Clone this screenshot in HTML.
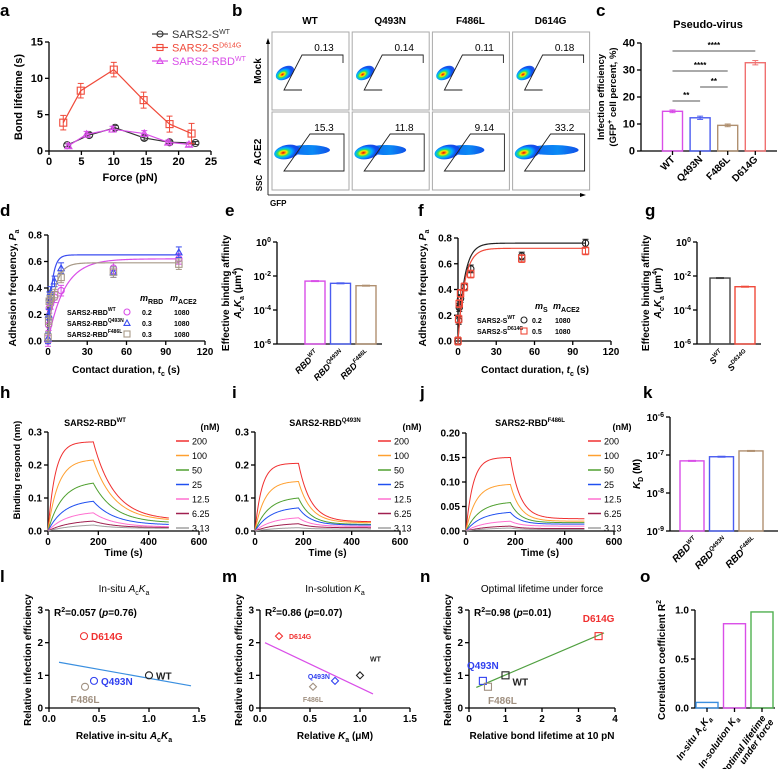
<!DOCTYPE html>
<html><head><meta charset="utf-8">
<style>
html,body{margin:0;padding:0;background:#fff;}
svg{display:block;font-family:"Liberation Sans",Arial,sans-serif;}
</style></head>
<body>
<svg id="fig" width="778" height="769" viewBox="0 0 778 769" xmlns="http://www.w3.org/2000/svg">
<defs>
<radialGradient id="jet" cx="0.35" cy="0.5" r="0.65">
<stop offset="0" stop-color="#d00000"/><stop offset="0.12" stop-color="#ff8000"/><stop offset="0.22" stop-color="#f0f000"/><stop offset="0.34" stop-color="#30e060"/><stop offset="0.5" stop-color="#00b0ff"/><stop offset="0.75" stop-color="#1050f0"/><stop offset="1" stop-color="#1040e0" stop-opacity="0.9"/>
</radialGradient>
<linearGradient id="tail" x1="0" x2="1"><stop offset="0" stop-color="#1060f0"/><stop offset="0.6" stop-color="#0a8af5"/><stop offset="1" stop-color="#1050e8"/></linearGradient>
</defs>
</svg>
<script>
// ---------- data ----------
const forceWT=[2.8,6.2,10.2,14.7,18.6,22.6];
const lifeWT=[0.8,2.2,3.2,1.8,1.2,1.1];
const errWT=[0.2,0.3,0.3,0.3,0.2,0.2];
const forceD614G=[2.2,4.9,10.0,14.6,18.6,22.0];
const lifeD614G=[3.9,8.3,11.2,7.0,3.7,2.4];
const errD614G=[1.0,1.0,1.0,1.1,1.1,1.4];
const forceRBD=[3.0,5.8,9.8,14.7,18.4,21.6];
const lifeRBD=[0.7,2.3,3.0,2.4,1.2,0.9];
const errRBD=[0.3,0.4,0.4,0.4,0.3,0.3];
const aTicksX=[0,5,10,15,20,25];
const aTicksY=[0,5,10,15];

const bCols=["WT","Q493N","F486L","D614G"];
const bMock=["0.13","0.14","0.11","0.18"];
const bAce2=["15.3","11.8","9.14","33.2"];
const bTail=[40,36,34,48];

const cCats=["WT","Q493N","F486L","D614G"];
const cVals=[14.7,12.3,9.5,32.7];
const cErr=[0.5,0.6,0.5,0.8];
const cTicks=[0,10,20,30,40];

const dTimes=[0,0.5,1,2,5,10,50,100];
const dWT=[0.0,0.12,0.25,0.28,0.33,0.38,0.55,0.62];
const dQ=[0.02,0.2,0.33,0.37,0.45,0.55,0.52,0.67];
const dF=[0.03,0.15,0.3,0.32,0.35,0.48,0.52,0.58];
const dFitA=[0.62,0.65,0.59];
const dFitK=[0.08,0.35,0.2];
const dTicksX=[0,30,60,90,120];
const dTicksY=[0,0.2,0.4,0.6,0.8];

const eCats=["RBD^WT","RBD^Q493N","RBD^F486L"];
const eLog=[-2.3,-2.43,-2.57];
const gCats=["S^WT","S^D614G"];
const gLog=[-2.12,-2.63];

const fTimes=[0,0.5,1,2,5,10,50,100];
const fWT=[0.0,0.16,0.26,0.33,0.42,0.56,0.66,0.76];
const fD=[0.0,0.17,0.29,0.37,0.42,0.52,0.64,0.70];
const fFitA=[0.76,0.72];
const fFitK=[0.2,0.19];

const concs=["200","100","50","25","12.5","6.25","3.13"];
const hPeak=[0.27,0.215,0.145,0.09,0.055,0.03,0.018];
const hEnd=[0.033,0.03,0.024,0.018,0.012,0.01,0.008];
const iPeak=[0.205,0.15,0.1,0.07,0.04,0.022,0.01];
const iEnd=[0.028,0.025,0.02,0.018,0.014,0.01,0.006];
const jPeak=[0.15,0.095,0.058,0.038,0.02,0.01,0.006];
const jEnd=[0.025,0.02,0.017,0.014,0.01,0.005,0.003];

const kCats=["RBD^WT","RBD^Q493N","RBD^F486L"];
const kVals=[7e-8,9e-8,1.28e-7];

const relInf=[1.0,2.2,0.83,0.65]; // WT, D614G, Q493N, F486L
const lX=[1.0,0.35,0.45,0.36];
const mX=[1.0,0.19,0.75,0.53];
const nX=[1.0,3.55,0.38,0.52];
const oCats=["In-situ AcKa","In-solution Ka","Optimal lifetime under force"];
const oVals=[0.057,0.86,0.98];

// ---------- helpers ----------
const NS="http://www.w3.org/2000/svg";
const svg=document.getElementById('fig');
function mk(tag,attrs,name,parent){
  const el=document.createElementNS(NS,tag);
  for(const k in attrs) el.setAttribute(k,attrs[k]);
  
  
  (parent||svg).appendChild(el);
  return el;
}
function tx(x,y,html,name,o){
  o=o||{};
  const a={x:x,y:y,'font-size':o.fs||10,'font-weight':o.fw||'bold','text-anchor':o.anchor||'middle',fill:o.fill||'#000'};
  if(o.rot!==undefined) a.transform='rotate('+o.rot+' '+x+' '+y+')';
  if(o.style) a['font-style']=o.style;
  const el=mk('text',a,name);
  el.innerHTML=html;
  return el;
}
function sup(s,fs){return '<tspan dy="-4" font-size="'+(fs||7)+'">'+s+'</tspan>';}
function sub(s,fs){return '<tspan dy="3" font-size="'+(fs||7)+'">'+s+'</tspan>';}
function line(x1,y1,x2,y2,name,st,w){return mk('line',{x1:x1,y1:y1,x2:x2,y2:y2,stroke:st||'#000','stroke-width':w||1.3},name);}
function lin(d0,d1,r0,r1){return v=>r0+(v-d0)/(d1-d0)*(r1-r0);}
function yAxis(x,sy,ticks,fmt,name,fs){
  line(x,sy(ticks[0]),x,sy(ticks[ticks.length-1]),name+'-line');
  ticks.forEach(t=>{line(x-4,sy(t),x,sy(t),name+'-tick');
    tx(x-6,sy(t)+3.5,fmt(t),name+'-label',{anchor:'end',fs:fs||10});});
}
function xAxis(y,sx,ticks,fmt,name,fs){
  line(sx(ticks[0]),y,sx(ticks[ticks.length-1]),y,name+'-line');
  ticks.forEach(t=>{line(sx(t),y,sx(t),y+4,name+'-tick');
    tx(sx(t),y+14,fmt(t),name+'-label',{fs:fs||10});});
}
function label(x,y,s){tx(x,y,s,'panel-label-'+s,{fs:17,anchor:'start'});}
function catLabel(x,y,s,name,fs){
  const p=s.split('^');
  tx(x,y,p[0]+(p[1]?sup(p[1],6):''),name,{rot:-45,anchor:'end',fs:fs||9,style:'italic'});
}
function circ(x,y,r,c,name){return mk('circle',{cx:x,cy:y,r:r,fill:'none',stroke:c,'stroke-width':1.1},name);}
function sq(x,y,r,c,name){return mk('rect',{x:x-r,y:y-r,width:2*r,height:2*r,fill:'none',stroke:c,'stroke-width':1.1},name);}
function tri(x,y,r,c,name){return mk('polygon',{points:(x)+','+(y-r)+' '+(x-r)+','+(y+r*0.8)+' '+(x+r)+','+(y+r*0.8),fill:'none',stroke:c,'stroke-width':1.1},name);}
function dia(x,y,r,c,name){return mk('polygon',{points:x+','+(y-r)+' '+(x+r)+','+y+' '+x+','+(y+r)+' '+(x-r)+','+y,fill:'none',stroke:c,'stroke-width':1.1},name);}
function errbar(x,y1,y2,c,name){line(x,y1,x,y2,name,c,1);line(x-3,y1,x+3,y1,name,c,1);line(x-3,y2,x+3,y2,name,c,1);}

// ---------- panel a ----------
label(0,16,'a');
{const sx=lin(0,25,49,211), sy=lin(0,15,151,42);
yAxis(49,sy,aTicksY,String,'a-y-axis',11);
xAxis(151,sx,aTicksX,String,'a-x-axis',11);
tx(22,97,'Bond lifetime (s)','a-y-axis-title',{rot:-90,fs:11});
tx(130,181,'Force (pN)','a-x-axis-title',{fs:11});
const series=[[forceWT,lifeWT,errWT,'#333','sars2-s-wt',circ],[forceRBD,lifeRBD,errRBD,'#d94ee8','sars2-rbd-wt',tri],[forceD614G,lifeD614G,errD614G,'#f04a3a','sars2-s-d614g',sq]];
series.forEach(s=>{
  const pts=s[0].map((f,i)=>sx(f)+','+sy(s[1][i])).join(' ');
  mk('polyline',{points:pts,fill:'none',stroke:s[3],'stroke-width':1.2},s[4]+'-line');
  s[0].forEach((f,i)=>{errbar(sx(f),sy(s[1][i]-s[2][i]),sy(s[1][i]+s[2][i]),s[3],s[4]+'-error');
    s[5](sx(f),sy(s[1][i]),3.5,s[3],s[4]+'-point');});
});
const leg=[['SARS2-S','WT','#333',circ],['SARS2-S','D614G','#f04a3a',sq],['SARS2-RBD','WT','#d94ee8',tri]];
leg.forEach((l,i)=>{const y=34+i*13.5;
  line(152,y,168,y,'legend-line',l[2],1.2);l[3](160,y,3,l[2],'legend-marker');
  tx(172,y+4,l[0]+sup(l[1]),'legend-entry',{anchor:'start',fs:11,fw:'normal',fill:l[2]});});
}

// ---------- panel b ----------
label(232,16,'b');
bCols.forEach((c,i)=>{
  const x0=272+i*80.2;
  tx(x0+38,24,c,'b-column-header',{fs:10});
  [[32,bMock[i],0],[112,bAce2[i],1]].forEach(r=>{
    const y0=r[0];
    mk('rect',{x:x0,y:y0,width:77,height:78,fill:'#fff',stroke:'#aaa','stroke-width':1},'b-facs-plot');
    if(r[2]==0){
      mk('ellipse',{cx:x0+13,cy:y0+41,rx:10,ry:6,fill:'url(#jet)',transform:'rotate(-30 '+(x0+13)+' '+(y0+41)+')'},'b-density-blob');
      mk('polyline',{points:(x0+71)+','+(y0+31)+' '+(x0+71)+','+(y0+23)+' '+(x0+30)+','+(y0+23)+' '+(x0+12)+','+(y0+58)+' '+(x0+30)+','+(y0+58),fill:'none',stroke:'#222','stroke-width':0.9},'b-gate');
    } else {
      mk('ellipse',{cx:x0+16+bTail[i]/2,cy:y0+38,rx:bTail[i]/2+2,ry:5,fill:'url(#tail)'},'b-density-tail');
      mk('ellipse',{cx:x0+15,cy:y0+40,rx:13,ry:7,fill:'url(#jet)',transform:'rotate(-12 '+(x0+15)+' '+(y0+40)+')'},'b-density-blob');
      mk('polygon',{points:(x0+12)+','+(y0+59)+' '+(x0+38)+','+(y0+22)+' '+(x0+72)+','+(y0+22)+' '+(x0+72)+','+(y0+59),fill:'none',stroke:'#222','stroke-width':0.9},'b-gate');
    }
    tx(x0+52,y0+19,r[1],'b-gate-percent',{fs:10,fw:'normal'});
  });
});
tx(261,71,'Mock','b-row-label',{rot:-90,fs:10});
tx(261,152,'ACE2','b-row-label',{rot:-90,fs:10});
tx(262,183,'SSC','b-y-axis-title',{rot:-90,fs:8});
tx(270,206,'GFP','b-x-axis-title',{fs:8,anchor:'start'});
line(268,195,268,42,'b-y-arrow','#000',0.8);
mk('polygon',{points:'268,38 266,44 270,44',fill:'#000'},'b-y-arrowhead');
line(268,195,582,195,'b-x-arrow','#000',0.8);
mk('polygon',{points:'586,195 580,193 580,197',fill:'#000'},'b-x-arrowhead');

// ---------- panel c ----------
label(596,16,'c');
{const sy=lin(0,40,151,43);
tx(708,28,'Pseudo-virus','c-title',{fs:11});
yAxis(641,sy,cTicks,String,'c-y-axis',11);
line(641,151,777,151,'c-x-axis');
tx(604,97,'Infection efficiency','c-y-axis-title',{rot:-90,fs:9.5});
tx(616,97,'(GFP'+sup('+')+'<tspan dy="4"> cell percent, %)</tspan>','c-y-axis-title',{rot:-90,fs:9.5});
const cols=['#d94ee8','#4a5cf0','#b09070','#f07070'];
cCats.forEach((c,i)=>{const cx=672.5+i*27.6;
  mk('rect',{x:cx-10,y:sy(cVals[i]),width:20,height:151-sy(cVals[i]),fill:'none',stroke:cols[i],'stroke-width':1.4},'c-bar-'+c);
  errbar(cx,sy(cVals[i]-cErr[i]),sy(cVals[i]+cErr[i]),cols[i],'c-error');
  line(cx,151,cx,155,'c-x-tick');
  tx(cx+3,160,c,'c-x-label',{rot:-45,anchor:'end',fs:10});
});
const sig=[[0,3,51,'****'],[0,2,71,'****'],[1,2,87,'**'],[0,1,101,'**']];
sig.forEach(s=>{const x1=672.5+s[0]*27.6,x2=672.5+s[1]*27.6;line(x1,s[2],x2,s[2],'c-significance-line','#555',1);
  tx((x1+x2)/2,s[2]-3,s[3],'c-significance-stars',{fs:8});});
}

// ---------- panel d ----------
label(0,216,'d');
{const sx=lin(0,120,48,205), sy=lin(0,0.8,341,235);
yAxis(48,sy,dTicksY,v=>v.toFixed(1),'d-y-axis');
xAxis(341,sx,dTicksX,String,'d-x-axis');
tx(16,288,'Adhesion frequency, <tspan font-style="italic">P</tspan>'+sub('a'),'d-y-axis-title',{rot:-90,fs:10.5});
tx(126,373,'Contact duration, <tspan font-style="italic">t</tspan>'+sub('c')+'<tspan dy="-3"> (s)</tspan>','d-x-axis-title',{fs:10});
const dd=[[dWT,'#d94ee8',circ,'rbd-wt'],[dQ,'#3a4cf0',tri,'rbd-q493n'],[dF,'#a89a88',sq,'rbd-f486l']];
dd.forEach((s,k)=>{
  let p=[];for(let t=0;t<=100;t+=0.5)p.push(sx(t)+','+sy(dFitA[k]*(1-Math.exp(-dFitK[k]*t))));
  mk('polyline',{points:p.join(' '),fill:'none',stroke:s[1],'stroke-width':1.2},'d-fit-'+s[3]);
  dTimes.forEach((t,i)=>{errbar(sx(t),sy(s[0][i]-0.04),sy(s[0][i]+0.04),s[1],'d-error');s[2](sx(t),sy(s[0][i]),3.2,s[1],'d-point-'+s[3]);});
});
tx(140,301,'<tspan font-style="italic">m</tspan>'+sub('RBD'),'d-legend-header',{fs:9,anchor:'start'});
tx(170,301,'<tspan font-style="italic">m</tspan>'+sub('ACE2'),'d-legend-header',{fs:9,anchor:'start'});
const ln=[['WT','0.2','#d94ee8',circ],['Q493N','0.3','#3a4cf0',tri],['F486L','0.3','#a89a88',sq]];
ln.forEach((l,i)=>{const y=312+i*11;tx(67,y+3,'SARS2-RBD'+sup(l[0],5),'d-legend-entry',{fs:7,anchor:'start'});
  l[3](127,y,3,l[2],'d-legend-marker');tx(142,y+3,l[1],'d-legend-value',{fs:7,anchor:'start'});tx(174,y+3,'1080','d-legend-value',{fs:7,anchor:'start'});});
}

// ---------- panel e & g (log bars) ----------
function logBars(ax,cats,logs,cols,pref,x0,step,w){
  const sy=lin(-6,0,344,242);
  line(ax,344,ax,242,pref+'-y-axis');
  [0,-2,-4,-6].forEach(t=>{line(ax-4,sy(t),ax,sy(t),pref+'-y-tick');tx(ax-6,sy(t)+4,'10'+sup(t,7),pref+'-y-label',{anchor:'end',fs:10});});
  line(ax,344,x0+step*(cats.length-1)+w/2+6,344,pref+'-x-axis');
  cats.forEach((c,i)=>{const cx=x0+i*step;
    mk('rect',{x:cx-w/2,y:sy(logs[i]),width:w,height:344-sy(logs[i]),fill:'none',stroke:cols[i],'stroke-width':1.4},pref+'-bar');
    line(cx-4,sy(logs[i]),cx+4,sy(logs[i]),pref+'-error',cols[i],2);
    catLabel(cx+4,354,c,pref+'-x-label');});
  tx(ax-48,293,'Effective binding affinity','ylabel',{rot:-90,fs:10});
  tx(ax-36,293,'<tspan font-style="italic">A</tspan>'+sub('c')+'<tspan font-style="italic" dy="-3">K</tspan>'+sub('a')+'<tspan dy="-3"> (μm</tspan>'+sup('4')+'<tspan dy="4">)</tspan>','ylabel',{rot:-90,fs:10});
}
label(225,216,'e');
logBars(277,eCats,eLog,['#d94ee8','#4a5cf0','#b09070'],'e',315,25.5,20);
label(645,216,'g');
logBars(697,gCats,gLog,['#444','#f04a3a'],'g',720,25,20);

// ---------- panel f ----------
label(418,216,'f');
{const sx=lin(0,120,458,611), sy=lin(0,0.8,341,238);
yAxis(458,sy,dTicksY,v=>v.toFixed(1),'f-y-axis');
xAxis(341,sx,dTicksX,String,'f-x-axis');
tx(426,288,'Adhesion frequency, <tspan font-style="italic">P</tspan>'+sub('a'),'f-y-axis-title',{rot:-90,fs:10.5});
tx(535,373,'Contact duration, <tspan font-style="italic">t</tspan>'+sub('c')+'<tspan dy="-3"> (s)</tspan>','f-x-axis-title',{fs:10});
const ff=[[fWT,'#222',circ,'s-wt'],[fD,'#f04a3a',sq,'s-d614g']];
ff.forEach((s,k)=>{
  let p=[];for(let t=0;t<=100;t+=0.5)p.push(sx(t)+','+sy(fFitA[k]*(1-Math.exp(-fFitK[k]*t))));
  mk('polyline',{points:p.join(' '),fill:'none',stroke:s[1],'stroke-width':1.2},'f-fit-'+s[3]);
  fTimes.forEach((t,i)=>{errbar(sx(t),sy(s[0][i]-0.03),sy(s[0][i]+0.03),s[1],'f-error');s[2](sx(t),sy(s[0][i]),3.2,s[1],'f-point-'+s[3]);});
});
tx(535,309,'<tspan font-style="italic">m</tspan>'+sub('S'),'f-legend-header',{fs:9,anchor:'start'});
tx(553,309,'<tspan font-style="italic">m</tspan>'+sub('ACE2'),'f-legend-header',{fs:9,anchor:'start'});
[['WT','0.2','#222',circ],['D614G','0.5','#f04a3a',sq]].forEach((l,i)=>{const y=320+i*11;
  tx(477,y+3,'SARS2-S'+sup(l[0],5),'f-legend-entry',{fs:7,anchor:'start'});l[3](524,y,3,l[2],'f-legend-marker');
  tx(532,y+3,l[1],'f-legend-value',{fs:7,anchor:'start'});tx(555,y+3,'1080','f-legend-value',{fs:7,anchor:'start'});});
}

// ---------- panels h,i,j ----------
const cCols=['#f03030','#ffa030','#50a030','#2050f0','#ff70d0','#a02050','#a0a0a0'];
function bli(pref,x0,x1,yTop,yMax,ticks,fmt,peaks,ends,kon,koff,title,titleX,legX){
  const sx=lin(0,600,x0,x1), sy=lin(0,yMax,531,yTop);
  yAxis(x0,sy,ticks,fmt,pref+'-y-axis');
  xAxis(531,sx,[0,200,400,600],String,pref+'-x-axis');
  tx((x0+x1)/2,556,'Time (s)','x-axis-title',{fs:10});
  const p=title.split('^');
  tx(titleX,426,p[0]+sup(p[1],6),pref+'-title',{fs:9});
  tx(legX+20,430,'(nM)','legend-title',{fs:9});
  peaks.forEach((pk,i)=>{
    const k=kon[i];let pts=[];
    for(let t=0;t<=180;t+=3)pts.push(sx(t)+','+sy(pk*(1-Math.exp(-k*t))/(1-Math.exp(-k*180))));
    for(let t=183;t<=480;t+=3)pts.push(sx(t)+','+sy(ends[i]+(pk-ends[i])*Math.exp(-koff*(t-180))));
    mk('polyline',{points:pts.join(' '),fill:'none',stroke:cCols[i],'stroke-width':1},pref+'-curve-'+concs[i]);
    const y=441+i*14.5;
    line(legX-14,y,legX-1,y,'legend-swatch',cCols[i],1.5);
    tx(legX+2,y+3.5,concs[i],'legend-entry',{fs:9,fw:'normal',anchor:'start'});
  });
}
const konH=[0.035,0.025,0.018,0.016,0.014,0.012,0.01];
label(0,398,'h');
bli('h',48,199,432,0.3,[0,0.1,0.2,0.3],v=>v.toFixed(1),hPeak,hEnd,konH,0.012,'SARS2-RBD^WT',95,190);
tx(20,470,'Binding respond (nm)','h-y-axis-title',{rot:-90,fs:9.5});
label(232,398,'i');
bli('i',255,400,432,0.3,[0,0.1,0.2,0.3],v=>v.toFixed(1),iPeak,iEnd,konH,0.02,'SARS2-RBD^Q493N',325,392);
label(420,398,'j');
bli('j',466,614,433,0.2,[0,0.05,0.1,0.15,0.2],v=>v.toFixed(2),jPeak,jEnd,konH,0.025,'SARS2-RBD^F486L',530,602);

// ---------- panel k ----------
label(643,398,'k');
{const sy=lin(-9,-6,531,417);
line(670,531,670,417,'k-y-axis');
[-6,-7,-8,-9].forEach(t=>{line(666,sy(t),670,sy(t),'k-y-tick');tx(664,sy(t)+4,'10'+sup(t,7),'k-y-label',{anchor:'end',fs:10});});
line(670,531,778,531,'k-x-axis');
tx(640,474,'<tspan font-style="italic">K</tspan>'+sub('D')+'<tspan dy="-3"> (M)</tspan>','k-y-axis-title',{rot:-90,fs:10});
const cols=['#d94ee8','#4a5cf0','#b09070'];
kCats.forEach((c,i)=>{const cx=692+i*29.5,v=sy(Math.log10(kVals[i]));
  mk('rect',{x:cx-12,y:v,width:24,height:531-v,fill:'none',stroke:cols[i],'stroke-width':1.4},'k-bar');
  line(cx-4,v,cx+4,v,'k-error',cols[i],2);
  catLabel(cx+6,541,c,'k-x-label',10);});
}

// ---------- panels l,m,n ----------
const ptCols=['#222','#f03030','#3040f0','#a09080'];
const ptNames=['WT','D614G','Q493N','F486L'];
function corr(pref,x0,x1,xMax,xTicks,xs,marker,title,r2,lineSeg,lineCol,xlab,labOff,labFs){
  const sx=lin(0,xMax,x0,x1), sy=lin(0,3,708,610);
  yAxis(x0,sy,[0,1,2,3],String,pref+'-y-axis');
  xAxis(708,sx,xTicks,v=>xMax>=4?String(v):v.toFixed(1),pref+'-x-axis');
  tx(x0-18,660,'Relative infection efficiency','y-axis-title',{rot:-90,fs:10});
  tx((x0+x1)/2,592,title,pref+'-title',{fs:10,fw:'normal'});
  tx(x0+5,616,r2,pref+'-r2',{fs:10,anchor:'start'});
  tx((x0+x1)/2,739,xlab,pref+'-x-axis-title',{fs:10});
  mk('line',{x1:sx(lineSeg[0]),y1:sy(lineSeg[1]),x2:sx(lineSeg[2]),y2:sy(lineSeg[3]),stroke:lineCol,'stroke-width':1.2},pref+'-regression-line');
  xs.forEach((x,i)=>{marker(sx(x),sy(relInf[i]),3.5,ptCols[i],pref+'-point-'+ptNames[i]);
    const o=labOff[i];tx(sx(x)+o[0],sy(relInf[i])+o[1],ptNames[i],pref+'-point-label',{fs:labFs,anchor:o[2],fill:ptCols[i]});});
}
label(0,582,'l');
corr('l',49,199,1.5,[0,0.5,1,1.5],lX,circ,'In-situ <tspan font-style="italic">A</tspan>'+sub('c')+'<tspan font-style="italic" dy="-3">K</tspan>'+sub('a'),'R'+sup('2')+'<tspan dy="4">=0.057 (</tspan><tspan font-style="italic">p</tspan>=0.76)',[0.1,1.4,1.42,0.68],'#3a8fe0','Relative in-situ <tspan font-style="italic">A</tspan>'+sub('c')+'<tspan font-style="italic" dy="-3">K</tspan>'+sub('a'),[[7,4,'start'],[7,4,'start'],[7,4,'start'],[0,16,'middle']],10);
label(222,582,'m');
corr('m',260,410,1.5,[0,0.5,1,1.5],mX,dia,'In-solution <tspan font-style="italic">K</tspan>'+sub('a'),'R'+sup('2')+'<tspan dy="4">=0.86 (</tspan><tspan font-style="italic">p</tspan>=0.07)',[0.05,2.0,1.13,0.43],'#d94ee8','Relative <tspan font-style="italic">K</tspan>'+sub('a')+'<tspan dy="-3"> (μM)</tspan>',[[10,-14,'start'],[10,3,'start'],[-5,-2,'end'],[0,15,'middle']],7);
label(420,582,'n');
corr('n',469,615,4,[0,1,2,3,4],nX,sq,'Optimal lifetime under force','R'+sup('2')+'<tspan dy="4">=0.98 (</tspan><tspan font-style="italic">p</tspan>=0.01)',[0.2,0.63,3.7,2.3],'#50a040','Relative bond lifetime at 10 pN',[[7,10,'start'],[0,-14,'middle'],[0,-12,'middle'],[0,17,'start']],10);

// ---------- panel o ----------
label(640,582,'o');
{const sy=lin(0,1,708,610);
yAxis(695,sy,[0,0.5,1],v=>v.toFixed(1),'o-y-axis');
line(695,708,775,708,'o-x-axis');
tx(665,660,'Correlation coefficient R'+sup('2'),'o-y-axis-title',{rot:-90,fs:10});
const cols=['#3a8fe0','#d94ee8','#50b050'];
const lbl=['In-situ <tspan>A</tspan>'+sub('c')+'<tspan dy="-3">K</tspan>'+sub('a'),'In-solution K'+sub('a'),'Optimal lifetime'];
oCats.forEach((c,i)=>{const cx=707+i*27.5,v=sy(oVals[i]);
  mk('rect',{x:cx-11,y:v,width:22,height:708-v,fill:'none',stroke:cols[i],'stroke-width':1.4},'o-bar');
  line(cx,708,cx,712,'o-x-tick');
  tx(cx+4,718,lbl[i],'o-x-label',{rot:-55,anchor:'end',fs:9.5,style:'italic'});});
tx(774,722,'under force','o-x-label',{rot:-55,anchor:'end',fs:9.5,style:'italic'});
}
</script>
</body></html>
